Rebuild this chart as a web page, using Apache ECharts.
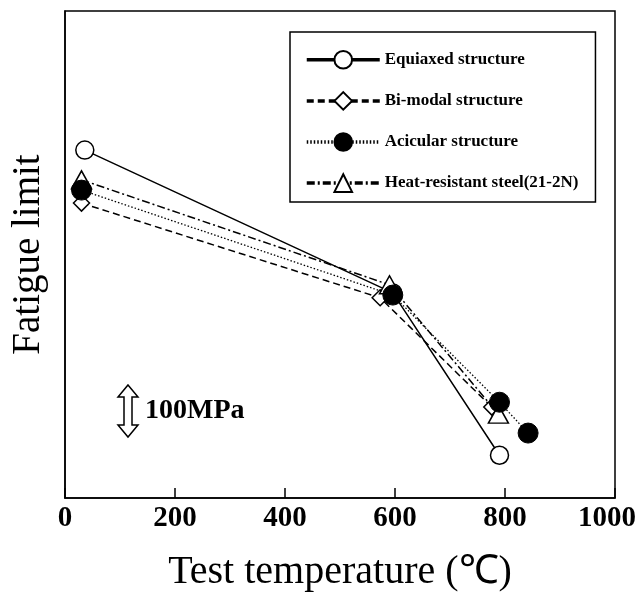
<!DOCTYPE html>
<html>
<head>
<meta charset="utf-8">
<script src="https://cdn.jsdelivr.net/npm/echarts@6/dist/echarts.min.js"></script>
<style>
html, body { margin: 0; padding: 0; background: #fff; }
#chart { width: 637px; height: 592px; }
</style>
</head>
<body>
<div id="chart"></div>
<script>
// 试验温度 (℃) / 疲劳极限 (MPa, 相对值)
const xTicks = [0, 200, 400, 600, 800, 1000];
const equiaxed = [[36, 643], [596, 379], [790, 79]];
const bimodal = [[30, 545], [573, 370], [776, 168]];
const acicular = [[30, 569], [596, 375], [790, 177], [842, 120]];
const heatSteel = [[30, 588], [590, 394], [788, 155]];
const seriesNames = ['Equiaxed structure', 'Bi-modal structure', 'Acicular structure', 'Heat-resistant steel(21-2N)'];

const serif = '"Liberation Serif", "Times New Roman", serif';
const myEchart = echarts.init(document.getElementById('chart'));

let option = {
  animation: false,
  grid: {
    left: 65,
    right: 22,
    top: 11,
    bottom: 94,
    containLabel: false,
    outerBoundsMode: 'none',
    show: true,
    borderColor: '#000',
    borderWidth: 1.5
  },
  xAxis: {
    type: 'value',
    min: 0,
    max: 1000,
    interval: 200,
    name: 'Test temperature (℃)',
    nameLocation: 'middle',
    nameGap: 54,
    nameTextStyle: { fontFamily: serif, fontSize: 40, color: '#000' },
    axisLine: { lineStyle: { color: '#000', width: 1.5 } },
    axisTick: { inside: true, length: 10, lineStyle: { color: '#000', width: 1.5 } },
    axisLabel: {
      fontFamily: serif, fontSize: 29, fontWeight: 'bold', color: '#000', margin: 6,
      formatter: (v) => {
        if (xTicks.indexOf(v) < 0) return '';
        // 最后一个标签稍微左移，避免被裁掉
        return v === 1000 ? '{last|1000}' : String(v);
      },
      rich: {
        last: { fontFamily: serif, fontSize: 29, fontWeight: 'bold', color: '#000', padding: [0, 16, 0, 0] }
      }
    },
    splitLine: { show: false }
  },
  yAxis: {
    type: 'value',
    min: 0,
    max: 900,
    name: 'Fatigue limit',
    nameLocation: 'middle',
    nameGap: 17,
    nameTextStyle: { fontFamily: serif, fontSize: 39, color: '#000' },
    axisLine: { show: true, lineStyle: { color: '#000', width: 1.5 } },
    axisTick: { show: false },
    axisLabel: { show: false },
    splitLine: { show: false }
  },
  legend: {
    orient: 'vertical',
    left: 290,
    top: 32,
    data: seriesNames,
    itemWidth: 73,
    itemHeight: 22,
    itemGap: 21.5,
    padding: [18, 17, 9, 15],
    borderColor: '#000',
    borderWidth: 1.5,
    backgroundColor: '#fff',
    lineStyle: { width: 3.5 },
    textStyle: { fontFamily: serif, fontSize: 17, fontWeight: 'bold', color: '#000' }
  },
  series: [
    {
      name: seriesNames[0],
      type: 'line',
      data: equiaxed,
      symbol: 'circle',
      symbolSize: 18,
      z: 2,
      lineStyle: { color: '#000', width: 1.5, type: 'solid' },
      itemStyle: { color: '#fff', borderColor: '#000', borderWidth: 1.5 }
    },
    {
      name: seriesNames[1],
      type: 'line',
      data: bimodal,
      symbol: 'diamond',
      symbolSize: [16, 16],
      z: 3,
      lineStyle: { color: '#000', width: 1.5, type: [7, 4] },
      itemStyle: { color: '#fff', borderColor: '#000', borderWidth: 1.5 }
    },
    {
      name: seriesNames[2],
      type: 'line',
      data: acicular,
      symbol: 'circle',
      symbolSize: 20,
      z: 5,
      lineStyle: { color: '#000', width: 1.3, type: [1.5, 2] },
      itemStyle: { color: '#000', borderColor: '#000', borderWidth: 1 }
    },
    {
      name: seriesNames[3],
      type: 'line',
      data: heatSteel,
      symbol: 'triangle',
      symbolSize: [20, 18],
      z: 4,
      lineStyle: { color: '#000', width: 1.5, type: [8, 3, 2, 3] },
      itemStyle: { color: '#fff', borderColor: '#000', borderWidth: 1.5 }
    }
  ],
  graphic: [
    {
      type: 'polygon',
      x: 128,
      y: 411,
      shape: {
        points: [[0, -26], [10, -14], [4, -14], [4, 14], [10, 14], [0, 26], [-10, 14], [-4, 14], [-4, -14], [-10, -14]]
      },
      style: { fill: '#fff', stroke: '#000', lineWidth: 1.5 }
    },
    {
      type: 'text',
      x: 145,
      y: 411,
      style: {
        text: '100MPa',
        font: 'bold 28px ' + serif,
        fill: '#000',
        textVerticalAlign: 'middle'
      }
    }
  ]
};

myEchart.setOption(option);
</script>
</body>
</html>
